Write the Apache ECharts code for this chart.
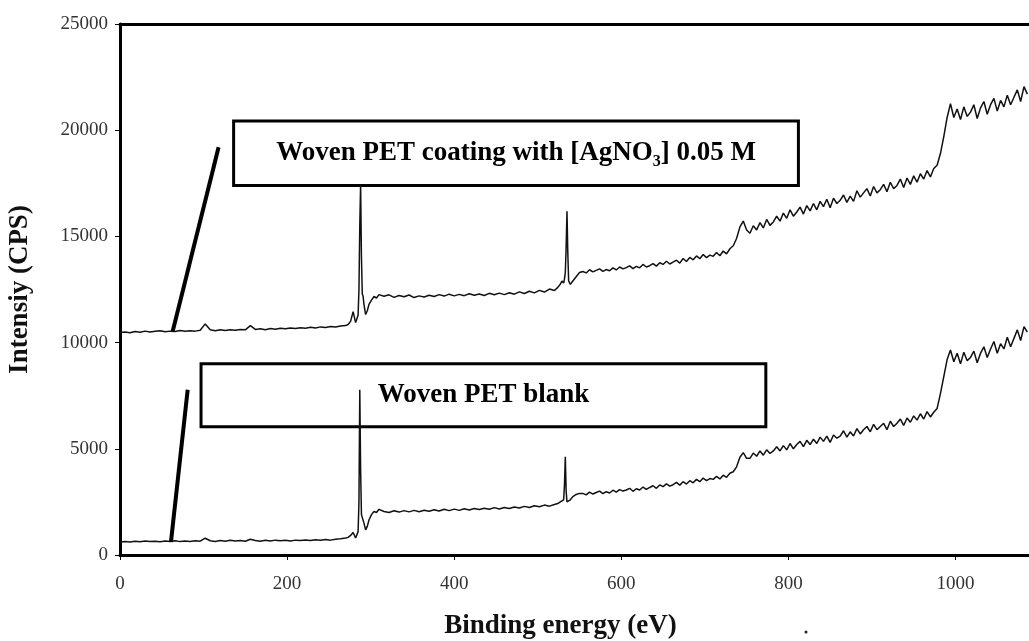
<!DOCTYPE html>
<html>
<head>
<meta charset="utf-8">
<title>XPS survey spectra</title>
<script src="https://cdn.jsdelivr.net/npm/echarts@6.0.0/dist/echarts.min.js"></script>
<style>
  html, body { margin: 0; padding: 0; background: #fff; }
  #main { width: 1029px; height: 641px; }
</style>
</head>
<body>
<div id="main"></div>
<script>
// binding energy (eV), shared by both spectra
var energy = [
  0, 6, 12, 18, 24, 30, 36, 42, 48, 54,
  60, 66, 72, 78, 84, 90, 96, 102, 108, 114,
  120, 126, 132, 138, 144, 150, 156, 162, 168, 174,
  180, 186, 192, 198, 204, 210, 216, 222, 228, 234,
  240, 246, 252, 258, 264, 270,
  273, 276, 279, 282, 285, 286, 287, 288, 289, 290,
  291, 292, 294, 296, 298, 301, 304, 307, 310,
  316, 322, 328, 334, 340, 346, 352, 358, 364, 370,
  376, 382, 388, 394, 400, 406, 412, 418, 424, 430,
  436, 442, 448, 454, 460, 466, 472, 478, 484, 490,
  496, 502, 508, 514, 520,
  524, 527, 529, 531, 532, 533, 534, 535, 536, 537,
  539, 542, 546, 550,
  554, 558, 562, 566, 570, 574, 578, 582, 586, 590,
  594, 598, 602, 606, 610, 614, 618, 622, 626, 630,
  634, 638, 642, 646, 650, 654, 658, 662, 666, 670,
  674, 678, 682, 686, 690, 694, 698, 702, 706, 710,
  714, 718, 722, 726, 730, 734, 738, 742, 746, 750,
  754, 758, 762, 766, 770, 774, 778, 782, 786, 790,
  794, 798, 802, 806, 810, 814, 818, 822, 826, 830,
  834, 838, 842, 846, 850, 854, 858, 862, 866, 870,
  874, 878, 882, 886, 890, 894, 898, 902, 906, 910,
  914, 918, 922, 926, 930, 934, 938, 942, 946, 950,
  954, 958, 962, 966, 970, 974, 978, 982, 986, 990,
  994, 998, 1002, 1006, 1010, 1014, 1018, 1022, 1026, 1030,
  1034, 1038, 1042, 1046, 1050, 1054, 1058, 1062, 1066, 1070,
  1074, 1078, 1082, 1086
];

// Woven PET coated with AgNO3 0.05 M (CPS)
var coated = [
  10470, 10500, 10460, 10520, 10490, 10540, 10500, 10530, 10560, 10510,
  10540, 10520, 10570, 10530, 10560, 10540, 10580, 10880, 10600, 10560,
  10600, 10570, 10610, 10580, 10620, 10600, 10800, 10620, 10650, 10610,
  10660, 10630, 10680, 10650, 10690, 10660, 10700, 10680, 10720, 10690,
  10740, 10710, 10760, 10730, 10780, 10800,
  10850, 11000, 11460, 10940, 11300, 12500, 15500, 17450, 14000, 12300,
  12170, 11800, 11320, 11500, 11800, 12000, 12170, 12100, 12260,
  12180, 12250, 12130, 12220, 12160, 12240, 12120, 12200, 12150, 12230,
  12170, 12260, 12190, 12280, 12200, 12270, 12210, 12300, 12230, 12290,
  12220, 12320, 12250, 12330, 12260, 12350, 12280, 12390, 12310, 12420,
  12340, 12460, 12380, 12520, 12450,
  12600, 12750, 12900, 12800, 13000, 13300, 14500, 16180, 14200, 12900,
  12740, 12900, 13100, 13300,
  13350, 13280, 13430, 13330, 13400, 13470, 13350, 13440, 13380, 13520,
  13420, 13560, 13470, 13530, 13610, 13480, 13590, 13520, 13680, 13560,
  13620, 13720, 13600, 13760, 13680, 13830, 13700, 13790, 13880, 13740,
  13960, 13820, 14010, 13900, 14080, 13950, 14150, 14000, 14120, 14060,
  14240, 14090, 14310, 14180, 14420, 14560, 14900, 15450, 15720, 15300,
  15150, 15500, 15300, 15650, 15400, 15800, 15520, 15680, 15950, 15720,
  16100, 15850, 16250, 15950, 16150, 16380, 16050, 16450, 16200, 16550,
  16250, 16650, 16400, 16750, 16350, 16800, 16550, 16700, 16950, 16600,
  16900, 16650, 17150, 16850, 17050, 17250, 16900, 17350, 17050, 17200,
  17450, 17100, 17550, 17250, 17400, 17700, 17300, 17750, 17450, 17850,
  17550, 17950, 17700, 18100, 17800, 18200, 18350, 18900, 19700, 20600,
  21250, 20600, 21000, 20500, 21100, 20650, 20850, 21200, 20550, 21050,
  21350, 20750, 21200, 21500, 20900, 21400, 21100, 21650, 21200, 21550,
  21900, 21350, 22050, 21700
];

// Woven PET blank (CPS)
var blank = [
  600, 640, 610, 650, 620, 660, 630, 650, 620, 660,
  640, 670, 630, 660, 640, 670, 650, 790, 670, 640,
  680, 650, 690, 660, 680, 650, 740, 680, 650, 690,
  660, 700, 670, 690, 660, 700, 680, 710, 680, 720,
  690, 730, 700, 740, 760, 800,
  830, 920, 1060, 800, 1100, 2500, 7780, 4000, 1900, 1950,
  1890, 1500, 1180, 1350, 1650, 1900, 2050, 2000, 2150,
  2050, 2000, 2080, 2020, 2090, 2030, 2100, 2040, 2110, 2060,
  2130, 2070, 2150, 2090, 2160, 2100, 2180, 2120, 2190, 2140,
  2200, 2150, 2230, 2170, 2240, 2190, 2260, 2210, 2290, 2240,
  2320, 2270, 2350, 2300, 2380,
  2420, 2500, 2450, 2600, 3300, 4620, 3000, 2500, 2450, 2450,
  2600, 2750, 2850, 2900,
  2900, 2830, 2960, 2870, 2940, 3010, 2890, 2980, 2920, 3050,
  2960, 3080, 3010, 3060, 3140, 3000, 3120, 3060, 3200, 3090,
  3180, 3260, 3140, 3300, 3220, 3350, 3240, 3310, 3420, 3290,
  3450, 3340, 3500, 3400, 3560, 3450, 3620, 3500, 3600, 3560,
  3700, 3580, 3760, 3660, 3850, 3920, 4150, 4600, 4820, 4550,
  4550, 4800, 4650, 4900, 4700, 4950, 4780, 4900, 5100, 4900,
  5150, 4950, 5250, 5000, 5200, 5350, 5100, 5400, 5200, 5450,
  5250, 5550, 5350, 5600, 5300, 5650, 5500, 5600, 5850, 5550,
  5800, 5600, 5950, 5700, 5900, 6050, 5800, 6150, 5900, 6050,
  6200, 5900, 6300, 6050, 6200, 6400, 6100, 6450, 6250, 6550,
  6350, 6650, 6400, 6750, 6500, 6720, 6900, 7600, 8400, 9200,
  9650, 9100, 9500, 9000, 9550, 9150, 9300, 9600, 9050, 9500,
  9800, 9300, 9700, 10050, 9500, 9950, 9700, 10250, 9800, 10200,
  10600, 10100, 10750, 10500
];

var yTicks = [0, 5000, 10000, 15000, 20000, 25000];

// annotation boxes and pointer lines, in data units [eV, CPS]
var boxCoated = [[136, 20430], [812, 17400]];
var boxBlank = [[97, 9010], [773, 6040]];
var pointerCoated = [[63, 10520], [118, 19200]];
var pointerBlank = [[61, 610], [81, 7780]];

var serif = '"Liberation Serif", "Times New Roman", serif';

function pairs(ys) {
  return energy.map(function (x, i) { return [x, ys[i]]; });
}

function plain(v) {
  return String(v);
}

var chart = echarts.init(document.getElementById('main'));

var option = {
  backgroundColor: '#fff',
  animation: false,
  grid: { left: 120, right: 0, top: 24, bottom: 86, outerBoundsMode: 'none' },
  xAxis: [{
    type: 'value',
    min: 0,
    max: 1088,
    interval: 200,
    name: 'Binding energy (eV)',
    nameLocation: 'middle',
    nameGap: 58,
    nameTextStyle: {
      fontFamily: serif, fontWeight: 'bold', fontSize: 27, color: '#111',
      padding: [0, 28, 0, 0]
    },
    axisLine: { onZero: false, lineStyle: { color: '#000', width: 3 } },
    axisTick: { length: 5, lineStyle: { color: '#000', width: 1 } },
    axisLabel: { fontFamily: serif, fontSize: 19, color: '#333', margin: 20, showMaxLabel: false, formatter: plain },
    splitLine: { show: false }
  }, {
    type: 'value',
    position: 'top',
    min: 0,
    max: 1088,
    axisLine: { show: true, onZero: false, lineStyle: { color: '#000', width: 3 } },
    axisTick: { show: false },
    axisLabel: { show: false },
    splitLine: { show: false }
  }],
  yAxis: {
    type: 'value',
    min: yTicks[0],
    max: yTicks[yTicks.length - 1],
    interval: yTicks[1] - yTicks[0],
    name: 'Intensiy (CPS)',
    nameLocation: 'middle',
    nameGap: 86,
    nameTextStyle: { fontFamily: serif, fontWeight: 'bold', fontSize: 27, color: '#111' },
    axisLine: { show: true, onZero: false, lineStyle: { color: '#000', width: 3 } },
    axisTick: { show: true, length: 5, lineStyle: { color: '#000', width: 1 } },
    axisLabel: { fontFamily: serif, fontSize: 19, color: '#333', margin: 12, formatter: plain },
    splitLine: { show: false }
  },
  series: [{
    name: 'Woven PET coating with [AgNO3] 0.05 M',
    type: 'line',
    data: pairs(coated),
    showSymbol: false,
    sampling: null,
    lineStyle: { color: '#111', width: 1.5 },
    markArea: {
      silent: true,
      itemStyle: { color: 'rgba(0,0,0,0)', borderColor: '#000', borderWidth: 3 },
      label: {
        show: true,
        position: 'inside',
        formatter: '{t|Woven PET coating with [AgNO}{s|3}{t|] 0.05 M}',
        rich: {
          t: { fontFamily: serif, fontWeight: 'bold', fontSize: 27, color: '#000', lineHeight: 34 },
          s: { fontFamily: serif, fontWeight: 'bold', fontSize: 16, color: '#000', lineHeight: 20, verticalAlign: 'bottom' }
        }
      },
      data: [[
        { xAxis: boxCoated[0][0], yAxis: boxCoated[0][1] },
        { xAxis: boxCoated[1][0], yAxis: boxCoated[1][1] }
      ]]
    },
    markLine: {
      silent: true,
      symbol: ['none', 'none'],
      label: { show: false },
      lineStyle: { color: '#000', width: 4, type: 'solid' },
      data: [[
        { coord: pointerCoated[0] },
        { coord: pointerCoated[1] }
      ]]
    }
  }, {
    name: 'Woven PET blank',
    type: 'line',
    data: pairs(blank),
    showSymbol: false,
    sampling: null,
    lineStyle: { color: '#111', width: 1.5 },
    markArea: {
      silent: true,
      itemStyle: { color: 'rgba(0,0,0,0)', borderColor: '#000', borderWidth: 3 },
      label: {
        show: true,
        position: 'inside',
        fontFamily: serif,
        fontWeight: 'bold',
        fontSize: 27,
        color: '#000'
      },
      data: [[
        { name: 'Woven PET blank', xAxis: boxBlank[0][0], yAxis: boxBlank[0][1] },
        { xAxis: boxBlank[1][0], yAxis: boxBlank[1][1] }
      ]]
    },
    markLine: {
      silent: true,
      symbol: ['none', 'none'],
      label: { show: false },
      lineStyle: { color: '#000', width: 4, type: 'solid' },
      data: [[
        { coord: pointerBlank[0] },
        { coord: pointerBlank[1] }
      ]]
    }
  }],
  graphic: [{
    type: 'circle',
    shape: { cx: 806, cy: 632, r: 1.5 },
    style: { fill: '#222' },
    silent: true
  }]
};

chart.setOption(option);

window.addEventListener('resize', function () {
  chart.resize();
});
</script>
</body>
</html>
